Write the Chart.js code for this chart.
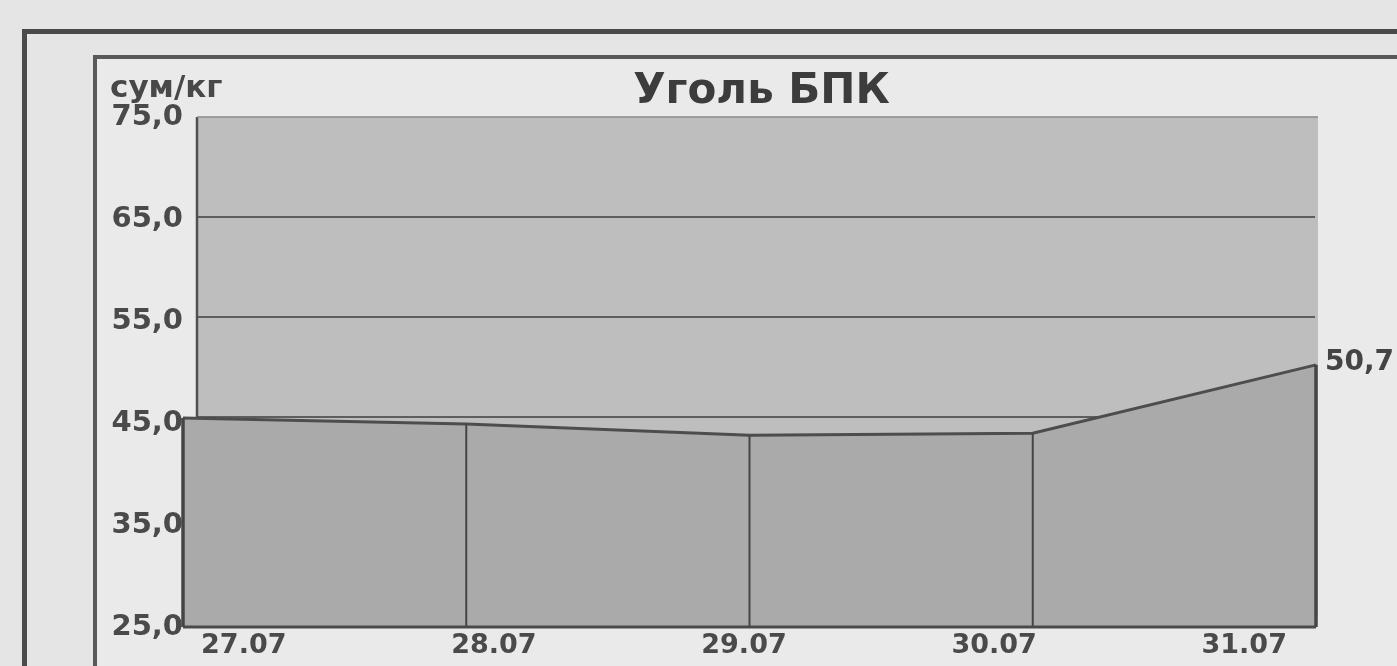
<!DOCTYPE html>
<html>
<head>
<meta charset="utf-8">
<script src="https://cdn.jsdelivr.net/npm/chart.js@4/dist/chart.umd.min.js"></script>
<style>
  html, body { margin: 0; padding: 0; background: #e5e5e5; width: 1397px; height: 666px; overflow: hidden; }
  .frame { position: absolute; }
  #outer { left: 22px; top: 29px; width: 2000px; height: 2000px; border-top: 5px solid #4a4a4a; border-left: 5px solid #4a4a4a; }
  #inner { left: 93px; top: 55px; width: 2000px; height: 2000px; border-top: 4px solid #585858; border-left: 4px solid #585858; background: #eaeaea; }
  #c { position: absolute; left: 0; top: 0; }
</style>
</head>
<body>
<div class="frame" id="outer"></div>
<div class="frame" id="inner"></div>
<canvas id="c" width="1397" height="666"></canvas>
<script>
const categories = ['27.07', '28.07', '29.07', '30.07', '31.07'];
const values = [45.5, 44.9, 43.8, 44.0, 50.7];
const yTicks = [25, 35, 45, 55, 65, 75];
const gridValues = [35, 45, 55, 65];
const titleText = 'Уголь БПК';
const unitText = 'сум/кг';
const labelledIndex = 4;

const FONT = 'DejaVu Sans';
const fmt = v => Number(v).toFixed(1).replace('.', ',');

const wallPlugin = {
  id: 'wall',
  beforeDatasetsDraw(chart) {
    const ctx = chart.ctx, ca = chart.chartArea, y = chart.scales.y;
    const x0 = ca.left + 14, x1 = ca.right + 2, y0 = ca.top, y1 = ca.bottom - 10;
    const back = v => ca.top + (y.getPixelForValue(v) - ca.top) * ((y1 - y0) / (ca.bottom - ca.top));
    ctx.save();
    ctx.fillStyle = '#bebebe';
    ctx.fillRect(x0, y0, x1 - x0, y1 - y0);
    ctx.strokeStyle = '#5e5e5e';
    ctx.lineWidth = 2;
    gridValues.forEach(v => {
      const py = back(v);
      ctx.beginPath(); ctx.moveTo(x0, py); ctx.lineTo(ca.right - 1, py); ctx.stroke();
    });
    ctx.strokeStyle = '#505050';
    ctx.lineWidth = 2.5;
    ctx.beginPath(); ctx.moveTo(x0, y1); ctx.lineTo(x0, y0); ctx.stroke();
    ctx.strokeStyle = '#8a8a8a';
    ctx.lineWidth = 1.5;
    ctx.beginPath(); ctx.moveTo(x0, y0); ctx.lineTo(x1, y0); ctx.stroke();
    ctx.restore();
  },
  afterDatasetsDraw(chart) {
    const ctx = chart.ctx, ca = chart.chartArea;
    const pts = chart.getDatasetMeta(0).data;
    ctx.save();
    ctx.strokeStyle = '#454545';
    pts.forEach((p, i) => {
      ctx.lineWidth = (i === 0 || i === pts.length - 1) ? 3.5 : 2;
      ctx.beginPath(); ctx.moveTo(p.x, p.y); ctx.lineTo(p.x, ca.bottom); ctx.stroke();
    });
    ctx.lineWidth = 3;
    ctx.strokeStyle = '#4a4a4a';
    ctx.beginPath(); ctx.moveTo(pts[0].x, ca.bottom); ctx.lineTo(pts[pts.length - 1].x, ca.bottom); ctx.stroke();
    // value label
    const lp = pts[labelledIndex];
    ctx.fillStyle = '#444';
    ctx.font = 'bold 28px "' + FONT + '"';
    ctx.textAlign = 'left';
    ctx.textBaseline = 'middle';
    ctx.fillText(fmt(values[labelledIndex]), lp.x + 9, lp.y - 2);
    // title
    ctx.fillStyle = '#3c3c3c';
    ctx.font = 'bold 42px "' + FONT + '"';
    ctx.textAlign = 'center';
    ctx.textBaseline = 'middle';
    ctx.fillText(titleText, (ca.left + ca.right) / 2 + 12, 92);
    // unit
    ctx.fillStyle = '#484848';
    ctx.font = 'bold 31px "' + FONT + '"';
    ctx.textAlign = 'left';
    ctx.textBaseline = 'alphabetic';
    ctx.fillText(unitText, 110, 97);
    ctx.restore();
  }
};

new Chart(document.getElementById('c'), {
  type: 'line',
  data: {
    labels: categories,
    datasets: [{
      data: values,
      fill: 'start',
      backgroundColor: '#aaaaaa',
      borderColor: '#4d4d4d',
      borderWidth: 3,
      pointRadius: 0,
      tension: 0
    }]
  },
  options: {
    responsive: false,
    animation: false,
    layout: { padding: { top: 117, right: 81, bottom: 0, left: 0 } },
    plugins: { legend: { display: false }, tooltip: { enabled: false }, title: { display: false } },
    scales: {
      x: { type: 'category', display: false, offset: false },
      xl: {
        type: 'linear', position: 'bottom', min: -0.243, max: 4.287,
        afterBuildTicks: s => { s.ticks = categories.map((c, i) => ({ value: i })); },
        afterFit: s => { s.height = 39; },
        grid: { display: false, drawTicks: false },
        border: { display: false },
        ticks: {
          callback: v => categories[v],
          font: { family: FONT, size: 27, weight: 'bold' },
          color: '#4a4a4a', padding: 3, maxRotation: 0, autoSkip: false
        }
      },
      y: {
        min: 25, max: 75,
        afterBuildTicks: s => { s.ticks = yTicks.map(v => ({ value: v })); },
        afterFit: s => { s.width = 183; },
        grid: { display: false, drawTicks: false },
        border: { display: false },
        ticks: {
          callback: v => fmt(v),
          font: { family: FONT, size: 29, weight: 'bold' },
          color: '#4a4a4a', padding: 0
        }
      }
    }
  },
  plugins: [wallPlugin]
});
</script>
</body>
</html>
